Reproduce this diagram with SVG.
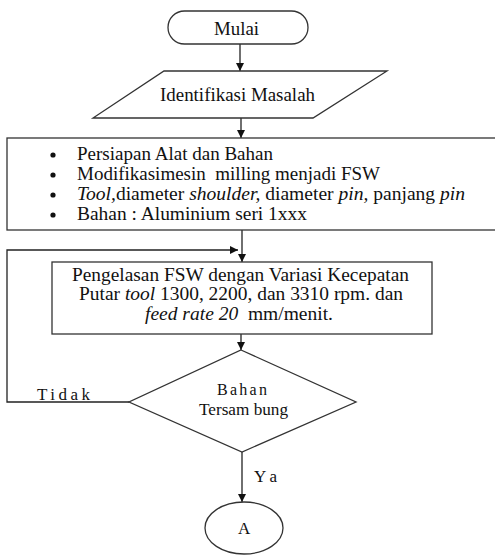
<svg xmlns="http://www.w3.org/2000/svg" width="495" height="556" viewBox="0 0 495 556" font-family="Liberation Serif, Times New Roman, serif" font-size="18">
<style>
.s{fill:#fff;stroke:#333;stroke-width:1.3}
text{fill:#111}
.i{font-style:italic}
.c{fill:none;stroke:#222;stroke-width:1.3}
</style>
<defs>
<marker id="ah" viewBox="0 0 10 10" refX="10" refY="5" markerWidth="8" markerHeight="8" markerUnits="userSpaceOnUse" orient="auto">
<path d="M0,0 L10,5 L0,10 z" fill="#111"/>
</marker>
</defs>
<g id="connectors">
<line class="c" x1="240" y1="44" x2="240" y2="71" marker-end="url(#ah)"/>
<line class="c" x1="241" y1="118" x2="241" y2="138" marker-end="url(#ah)"/>
<line class="c" x1="242" y1="230" x2="242" y2="262" marker-end="url(#ah)"/>
<polyline class="c" points="129,402 7,402 7,250 238,250" marker-end="url(#ah)"/>
<line class="c" x1="241" y1="334" x2="241" y2="350" marker-end="url(#ah)"/>
<line class="c" x1="242" y1="452" x2="242" y2="502" marker-end="url(#ah)"/>
<text x="37" y="400" font-size="17" textLength="53" lengthAdjust="spacing">Tidak</text>
<text x="254" y="482" font-size="17" textLength="23" lengthAdjust="spacing">Ya</text>
</g>
<g id="mulai">
<rect class="s" x="168" y="11" width="140" height="33" rx="16.5"/>
<text x="214" y="35" textLength="45" lengthAdjust="spacingAndGlyphs">Mulai</text>
</g>
<g id="identifikasi">
<polygon class="s" points="164,71 387,71 313,118 93,118"/>
<text x="160" y="101" textLength="155" lengthAdjust="spacingAndGlyphs">Identifikasi Masalah</text>
</g>
<g id="persiapan">
<rect class="s" x="7" y="138" width="490" height="92"/>
<circle cx="53" cy="155" r="2.6" fill="#111"/>
<circle cx="53" cy="175" r="2.6" fill="#111"/>
<circle cx="53" cy="195" r="2.6" fill="#111"/>
<circle cx="53" cy="215" r="2.6" fill="#111"/>
<text x="77" y="160" textLength="196" lengthAdjust="spacingAndGlyphs">Persiapan Alat dan Bahan</text>
<text x="77" y="180" textLength="303" lengthAdjust="spacingAndGlyphs" xml:space="preserve">Modifikasimesin  milling menjadi FSW</text>
<text x="77" y="200" textLength="388" lengthAdjust="spacingAndGlyphs"><tspan class="i">Tool,</tspan>diameter <tspan class="i">shoulder,</tspan> diameter <tspan class="i">pin,</tspan> panjang <tspan class="i">pin</tspan></text>
<text x="77" y="220" textLength="230" lengthAdjust="spacingAndGlyphs">Bahan : Aluminium seri 1xxx</text>
</g>
<g id="pengelasan">
<rect class="s" x="52" y="262" width="380" height="72"/>
<text x="72" y="281" textLength="337" lengthAdjust="spacingAndGlyphs">Pengelasan FSW dengan Variasi Kecepatan</text>
<text x="79" y="300" textLength="324" lengthAdjust="spacingAndGlyphs">Putar <tspan class="i">tool</tspan> 1300, 2200, dan 3310 rpm. dan</text>
<text x="145" y="320" textLength="188" lengthAdjust="spacingAndGlyphs" xml:space="preserve"><tspan class="i">feed rate 20</tspan>  mm/menit.</text>
</g>
<g id="keputusan">
<polygon class="s" points="241,350 356,402 242,452 129,402"/>
<text x="217" y="395" font-size="16" textLength="50" lengthAdjust="spacing">Bahan</text>
<text x="199" y="415" font-size="16" textLength="89" lengthAdjust="spacingAndGlyphs">Tersam bung</text>
</g>
<g id="a">
<ellipse class="s" cx="244" cy="528" rx="39" ry="26"/>
<text x="238" y="534" font-size="17">A</text>
</g>
</svg>
